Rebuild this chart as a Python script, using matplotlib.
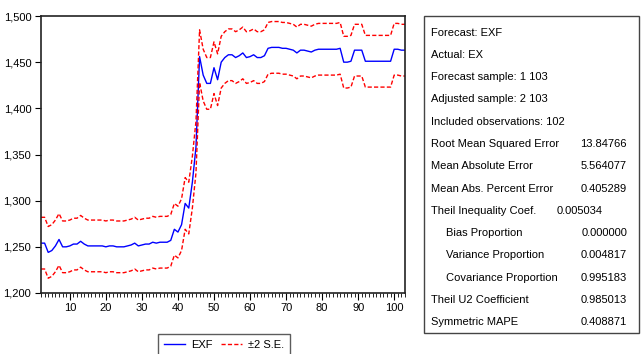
import numpy as np
import matplotlib
matplotlib.use('Agg')
import matplotlib.pyplot as plt
from matplotlib.ticker import MultipleLocator, FuncFormatter
from matplotlib.patches import Rectangle
from matplotlib.lines import Line2D

plt.rcParams['font.family'] = ['Liberation Sans', 'DejaVu Sans']

# observations 2..103
obs = list(range(2, 104))

exf = [1254, 1254, 1244, 1246, 1251, 1258, 1250, 1250, 1251, 1253,
       1253, 1256, 1253, 1251, 1251, 1251, 1251, 1251, 1250, 1251,
       1251, 1250, 1250, 1250, 1251, 1252, 1254, 1251, 1252, 1253,
       1253, 1255, 1254, 1255, 1255, 1255, 1257, 1269, 1266, 1274,
       1297, 1292, 1320, 1358, 1456, 1436, 1427, 1427, 1444, 1431,
       1450, 1455, 1458, 1458, 1455, 1457, 1460, 1455, 1456, 1458,
       1455, 1455, 1457, 1465, 1466, 1466, 1466, 1465, 1465, 1464,
       1463, 1460, 1463, 1463, 1462, 1461, 1463, 1464, 1464, 1464,
       1464, 1464, 1464, 1465, 1450, 1450, 1451, 1463, 1463, 1463,
       1451, 1451, 1451, 1451, 1451, 1451, 1451, 1451, 1464, 1464,
       1463, 1463]

upper = [1282, 1282, 1272, 1274, 1279, 1286, 1278, 1278, 1279, 1281,
         1281, 1284, 1281, 1279, 1279, 1279, 1279, 1279, 1278, 1279,
         1279, 1278, 1278, 1278, 1279, 1280, 1282, 1279, 1280, 1281,
         1281, 1283, 1282, 1283, 1283, 1283, 1285, 1297, 1294, 1302,
         1325, 1320, 1348, 1386, 1485, 1464, 1455, 1455, 1472, 1459,
         1478, 1483, 1486, 1486, 1483, 1485, 1488, 1483, 1484, 1486,
         1483, 1483, 1485, 1493, 1494, 1494, 1494, 1493, 1493, 1492,
         1491, 1488, 1491, 1491, 1490, 1489, 1491, 1492, 1492, 1492,
         1492, 1492, 1492, 1493, 1478, 1478, 1479, 1491, 1491, 1491,
         1479, 1479, 1479, 1479, 1479, 1479, 1479, 1479, 1492, 1492,
         1491, 1491]

lower = [1226, 1226, 1216, 1218, 1223, 1230, 1222, 1222, 1223, 1225,
         1225, 1228, 1225, 1223, 1223, 1223, 1223, 1223, 1222, 1223,
         1223, 1222, 1222, 1222, 1223, 1224, 1226, 1223, 1224, 1225,
         1225, 1227, 1226, 1227, 1227, 1227, 1229, 1241, 1238, 1246,
         1269, 1264, 1292, 1330, 1428, 1408, 1399, 1399, 1416, 1403,
         1422, 1427, 1430, 1430, 1427, 1429, 1432, 1427, 1428, 1430,
         1427, 1427, 1429, 1437, 1438, 1438, 1438, 1437, 1437, 1436,
         1435, 1432, 1435, 1435, 1434, 1433, 1435, 1436, 1436, 1436,
         1436, 1436, 1436, 1437, 1422, 1422, 1423, 1435, 1435, 1435,
         1423, 1423, 1423, 1423, 1423, 1423, 1423, 1423, 1436, 1436,
         1435, 1435]

stat_labels = ['Forecast: EXF', 'Actual: EX', 'Forecast sample: 1 103',
               'Adjusted sample: 2 103', 'Included observations: 102',
               'Root Mean Squared Error', 'Mean Absolute Error',
               'Mean Abs. Percent Error', 'Theil Inequality Coef.',
               'Bias Proportion', 'Variance Proportion',
               'Covariance Proportion', 'Theil U2 Coefficient',
               'Symmetric MAPE']
stat_values = ['', '', '', '', '', '13.84766', '5.564077', '0.405289',
               '0.005034', '0.000000', '0.004817', '0.995183',
               '0.985013', '0.408871']
indented = ['Bias Proportion', 'Variance Proportion', 'Covariance Proportion']

W, H = 641, 354
fs = 8
fig = plt.figure(figsize=(W / 100, H / 100), dpi=100)

def fx(px):
    return px / W

def fy(py):
    return 1 - py / H

ax = fig.add_axes([fx(41), fy(293), fx(405) - fx(41), fy(16) - fy(293)])
ax.plot(obs, exf, color='#0000ff', lw=1.0)
ax.plot(obs, upper, color='#ff0000', lw=1.0, dashes=(3, 1.6))
ax.plot(obs, lower, color='#ff0000', lw=1.0, dashes=(3, 1.6))

ax.set_xlim(2, 103)
ax.set_ylim(1200, 1500)
ax.xaxis.set_major_locator(MultipleLocator(10))
ax.xaxis.set_minor_locator(MultipleLocator(1))
ax.yaxis.set_major_locator(MultipleLocator(50))
ax.yaxis.set_major_formatter(FuncFormatter(lambda v, p: f'{int(v):,}'))
ax.tick_params(axis='x', which='major', length=5, width=0.8, labelsize=fs, pad=2)
ax.tick_params(axis='x', which='minor', length=3, width=0.6)
ax.tick_params(axis='y', length=4, width=0.8, labelsize=fs, pad=3)
for s in ax.spines.values():
    s.set_linewidth(1.2)
    s.set_color('#222222')

# legend under the plot
handles = [Line2D([], [], color='#0000ff', lw=1.0),
           Line2D([], [], color='#ff0000', lw=1.0, dashes=(3, 1.6))]
leg = fig.legend(handles, ['EXF', '\u00b12 S.E.'], loc='upper left',
                 bbox_to_anchor=(fx(158), fy(334)), ncol=2, fontsize=fs,
                 frameon=True, fancybox=False, handlelength=1.9,
                 handletextpad=0.55, columnspacing=0.8, borderpad=0.5,
                 borderaxespad=0)
leg.get_frame().set_edgecolor('#333333')
leg.get_frame().set_linewidth(1.0)

# statistics box on the right
fig.patches.append(Rectangle((fx(424), fy(333)), fx(639) - fx(424),
                             fy(16) - fy(333), transform=fig.transFigure,
                             fill=False, edgecolor='#444444', lw=1.0))
y0 = 32.5
step = 22.3
for i, (lab, val) in enumerate(zip(stat_labels, stat_values)):
    y = fy(y0 + i * step)
    xl = 446 if lab in indented else 431
    fig.text(fx(xl), y, lab, fontsize=fs, va='center', ha='left')
    if lab == 'Theil Inequality Coef.':
        fig.text(fx(603), y, val, fontsize=fs, va='center', ha='right')
    elif val:
        fig.text(fx(627), y, val, fontsize=fs, va='center', ha='right')

fig.savefig('out.png', dpi=100)
